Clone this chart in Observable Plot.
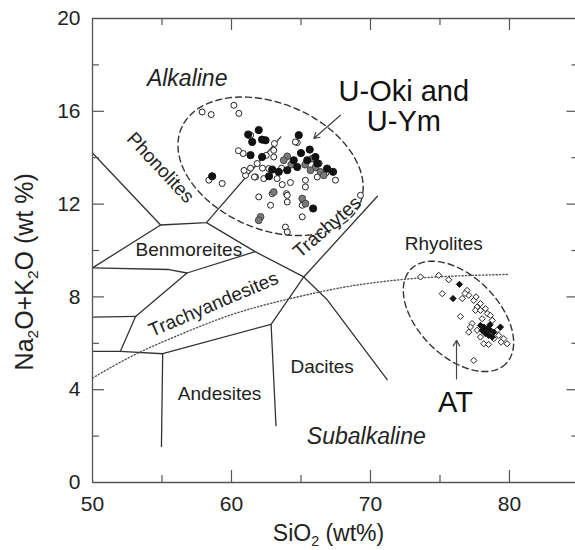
<!DOCTYPE html>
<html><head><meta charset="utf-8">
<script src="https://cdn.jsdelivr.net/npm/d3@7"></script>
<script src="https://cdn.jsdelivr.net/npm/@observablehq/plot@0.6"></script>
<style>html,body{margin:0;padding:0;background:#fff;overflow:hidden}</style>
</head><body><div id="chart"></div>
<script>
// ---------- DATA ----------
const xTickLabels = [50, 60, 70, 80];
const yTickLabels = [0, 4, 8, 12, 16, 20];
const xTickMajor = [60, 70, 80];
const xTickMinor = [55, 65, 75];
const yTickMajor = [4, 8, 12, 16];
const yTickMinor = [2, 6, 10, 14, 18];

// U-Oki / U-Ym tephra (circles)
const okiOpen = [[57.89,15.97],[58.54,15.86],[60.17,16.26],[60.53,15.91],[61.32,14.93],[63.09,14.61],[64.73,14.65],[60.84,14.18],[61.85,13.75],[63.04,14.03],[63.04,14.32],[58.37,13.03],[59.33,12.89],[61.96,12.31],[62.81,11.95],[63.96,12.45],[64.01,12.09],[63.88,11.01],[64.01,10.80],[64.60,14.68],[67.48,13.03],[65.32,13.03],[65.32,12.74],[65.09,11.45],[69.28,12.38],[61.73,13.17],[62.32,13.10],[63.28,13.10],[63.65,12.84],[64.24,12.93],[62.93,12.45],[64.01,12.38],[65.09,11.95],[61.37,13.55],[62.23,13.55],[61.01,13.24],[62.68,13.53],[61.65,13.17],[66.17,13.17],[61.37,14.97],[60.5,14.3],[62.5,14.1],[60.9,13.45],[63.6,13.55],[66.8,13.35]];
const okiGray = [[64.01,14.06],[63.76,13.89],[65.80,13.96],[66.04,13.58],[66.40,13.39],[66.64,13.24],[65.68,13.46],[65.09,12.24],[65.32,12.02],[62.09,11.45],[61.96,11.30],[63.04,12.52],[66.28,13.75],[65.3,13.7],[64.3,13.7]];
const okiBlack = [[61.96,15.19],[62.20,14.78],[61.49,14.68],[62.45,14.75],[61.37,14.11],[62.20,14.03],[64.84,14.97],[65.63,14.35],[64.48,13.89],[64.73,13.60],[64.01,13.46],[63.40,13.39],[62.93,13.49],[65.45,13.89],[66.04,14.03],[66.17,13.75],[66.88,13.53],[67.31,13.39],[58.61,13.20],[65.87,11.81],[62.7,13.2],[65.0,14.2],[61.2,15.0]];

// AT tephra (diamonds)
const atOpen = [[73.60,8.86],[74.91,8.93],[75.63,8.74],[75.16,8.14],[76.60,7.93],[76.47,7.16],[76.95,8.28],[77.07,8.07],[77.43,7.85],[77.67,7.56],[77.55,7.42],[77.91,7.42],[78.27,7.49],[78.40,7.28],[78.63,7.20],[78.76,6.99],[77.31,6.85],[77.07,6.48],[77.19,6.70],[77.67,6.56],[77.91,6.27],[78.15,5.98],[78.87,6.20],[79.23,6.34],[79.59,6.20],[79.83,5.98],[79.11,6.56],[77.43,5.26],[77.91,7.71],[78.03,7.06],[76.8,8.15],[77.6,8.0],[78.5,5.95],[79.4,6.05]];
const atBlack = [[76.40,8.54],[75.94,7.93],[78.15,6.70],[78.40,6.63],[78.63,6.56],[78.27,6.42],[78.51,6.34],[78.87,6.48],[79.35,6.70],[78.03,6.56],[78.76,6.27],[77.91,6.77],[78.6,6.8]];

// TAS field boundaries (SiO2, Na2O+K2O)
const fieldLines = [
  [[50,14.2],[54.9,11.1],[58.2,11.2],[63.55,14.9]],
  [[54.9,11.1],[50,9.25]],
  [[58.2,11.2],[61.7,9.95],[65.2,8.86],[66.85,7.9],[71.2,4.43]],
  [[50,9.25],[55.5,9.18],[56.8,9.03],[61.7,9.95]],
  [[56.8,9.03],[53.1,7.16],[52.0,5.65]],
  [[50,7.13],[53.1,7.16]],
  [[50,5.65],[52.0,5.65],[55.05,5.55],[62.85,6.82],[65.2,8.86],[70.5,12.34]],
  [[55.05,5.55],[54.96,1.55]],
  [[62.85,6.82],[63.2,2.45]]
];
// Alkaline / subalkaline divider (dotted)
const dividerX = [50,52,54,56,58,60,62,64,66,68,70,72,74,76,78,80];
const dividerY = [4.5,5.2,5.8,6.3,6.8,7.25,7.6,7.9,8.17,8.42,8.6,8.74,8.84,8.9,8.94,8.97];

// Field labels
const fieldText = ["Phonolites","Benmoreites","Trachyandesites","Trachytes","Andesites","Dacites","Rhyolites"];
const fieldX = [54.89, 56.93, 58.71, 66.88, 59.14, 66.52, 75.27];
const fieldY = [13.57, 10.01, 7.68, 11.01, 3.83, 4.97, 10.27];
const fieldRot = [47, 0, -23, -41, 0, 0, 0];
const seriesText = ["Alkaline", "Subalkaline"];
const seriesX = [56.81, 69.70];
const seriesY = [17.42, 1.98];
const groupText = ["U-Oki and", "U-Ym", "AT"];
const groupX = [72.40, 72.40, 76.12];
const groupY = [16.84, 15.54, 3.46];
// Arrows
const arrows = [
  {x1: 67.84, y1: 15.83, x2: 65.92, y2: 14.83},
  {x1: 76.19, y1: 4.47, x2: 76.19, y2: 6.13}
];
// Dashed group envelopes: centre (data), semi-axes (px), tilt (deg)
const envelopes = [
  {id: "oki", cx: 62.81, cy: 13.63, a: 97, b: 63, angle: 23},
  {id: "at", cx: 76.33, cy: 7.16, a: 67, b: 40, angle: 45}
];

// ---------- LAYOUT ----------
const W = 575, H = 550, ML = 92, MR = 0, MT = 18, MB = 68;
const xDomain = [50, 84.75], yDomain = [0, 20];
const kx = (W - ML - MR) / (xDomain[1] - xDomain[0]);
const ky = (H - MT - MB) / (yDomain[1] - yDomain[0]);
const FONT = "'Liberation Sans', Arial, Helvetica, sans-serif";
const INK = "#222";

const toPts = arr => arr.map(([x, y]) => ({x, y}));
const linesData = fieldLines.flatMap((l, i) => l.map(([x, y]) => ({x, y, id: i})));
const dividerData = dividerX.map((x, i) => ({x, y: dividerY[i]}));
function envelopePts(e) {
  const th = e.angle * Math.PI / 180, pts = [];
  for (let i = 0; i < 144; i++) {
    const t = i / 144 * 2 * Math.PI;
    const dx = e.a * Math.cos(t) * Math.cos(th) - e.b * Math.sin(t) * Math.sin(th);
    const dy = e.a * Math.cos(t) * Math.sin(th) + e.b * Math.sin(t) * Math.cos(th);
    pts.push({x: e.cx + dx / kx, y: e.cy - dy / ky, id: e.id});
  }
  return pts;
}
const envData = envelopes.flatMap(envelopePts);
const idx = a => a.map((_, i) => i);

const majorLen = 12, minorLen = 7;
const xTicks = [...xTickMajor.map(v => ({v, l: majorLen})), ...xTickMinor.map(v => ({v, l: minorLen}))];
const yTicks = [...yTickMajor.map(v => ({v, l: majorLen})), ...yTickMinor.map(v => ({v, l: minorLen}))];
const frameStroke = "#555";

const chart = Plot.plot({
  width: W, height: H,
  marginLeft: ML, marginRight: MR, marginTop: MT, marginBottom: MB,
  x: {domain: xDomain},
  y: {domain: yDomain},
  style: {fontFamily: FONT, background: "white", color: INK},
  marks: [
    // field boundaries
    Plot.line(linesData, {x: "x", y: "y", z: "id", stroke: "#333", strokeWidth: 1.3}),
    Plot.line(dividerData, {x: "x", y: "y", stroke: "#555", strokeWidth: 1.4, strokeDasharray: "1.2,2.2", curve: "basis"}),
    Plot.line(envData, {x: "x", y: "y", z: "id", curve: "linear-closed", stroke: "#333", strokeWidth: 1.4, strokeDasharray: "6,4"}),
    Plot.arrow(arrows, {x1: "x1", y1: "y1", x2: "x2", y2: "y2", stroke: "#444", strokeWidth: 1.2, headLength: 8}),
    // points
    Plot.dot(toPts(okiOpen), {x: "x", y: "y", r: 3, fill: "white", stroke: "#222", strokeWidth: 1}),
    Plot.dot(toPts(okiGray), {x: "x", y: "y", r: 3.4, fill: "#7a7a7a", stroke: "#444", strokeWidth: 1}),
    Plot.dot(toPts(okiBlack), {x: "x", y: "y", r: 3.6, fill: "#111", stroke: "#111", strokeWidth: 1}),
    Plot.dot(toPts(atOpen), {x: "x", y: "y", r: 2.8, symbol: "diamond2", fill: "white", stroke: "#222", strokeWidth: 1}),
    Plot.dot(toPts(atBlack), {x: "x", y: "y", r: 2.8, symbol: "diamond2", fill: "#111", stroke: "#111", strokeWidth: 1}),
    // labels
    Plot.text(idx(fieldText), {x: i => fieldX[i], y: i => fieldY[i], text: i => fieldText[i], rotate: i => fieldRot[i], fontSize: 19, fill: INK}),
    Plot.text(idx(seriesText), {x: i => seriesX[i], y: i => seriesY[i], text: i => seriesText[i], fontSize: 23, fontStyle: "italic", fill: INK}),
    Plot.text(idx(groupText), {x: i => groupX[i], y: i => groupY[i], text: i => groupText[i], fontSize: 29, fill: "#111"}),
    // frame (left, bottom, top)
    Plot.ruleX([50], {x: d => d, y1: 0, y2: 20, stroke: frameStroke, strokeWidth: 1.3}),
    Plot.ruleY([0, 20], {y: d => d, x1: 50, x2: 85, stroke: frameStroke, strokeWidth: 1.3}),
    // inward ticks
    Plot.ruleX(xTicks, {x: "v", y1: 0, y2: d => d.l / ky, stroke: frameStroke, strokeWidth: 1.2}),
    Plot.ruleX(xTicks, {x: "v", y1: d => 20 - d.l / ky, y2: 20, stroke: frameStroke, strokeWidth: 1.2}),
    Plot.ruleY(yTicks, {y: "v", x1: 50, x2: d => 50 + d.l / kx, stroke: frameStroke, strokeWidth: 1.2}),
    Plot.ruleY(yTicks, {y: "v", x1: d => 85 - d.l / kx, x2: 85, stroke: frameStroke, strokeWidth: 1.2}),
    // axes labels
    Plot.axisX({ticks: xTickLabels, tickSize: 0, tickPadding: 14, fontSize: 21, label: null, fill: INK}),
    Plot.axisY({ticks: yTickLabels, tickSize: 0, tickPadding: 12, fontSize: 21, label: null, fill: INK}),
    Plot.text(["SiO2 (wt%)"], {x: 66.98, y: 0, text: d => d, dy: 51, fontSize: 23, fill: INK}),
    Plot.text(["Na2O+K2O (wt %)"], {x: 50, y: 9.08, text: d => d, dx: -68, rotate: -90, fontSize: 25, fill: INK})
  ]
});
document.getElementById("chart").appendChild(chart);

// chemical subscripts as tspans
d3.select(chart).selectAll("text").each(function() {
  const t = this.textContent;
  if (t !== "SiO2 (wt%)" && t !== "Na2O+K2O (wt %)") return;
  const fs = parseFloat(getComputedStyle(this).fontSize) || 24;
  const sel = d3.select(this);
  sel.text(null);
  const parts = t.split(/(2)/);
  let shifted = false;
  parts.forEach(p => {
    if (p === "") return;
    const ts = sel.append("tspan").text(p);
    if (p === "2") {
      ts.attr("font-size", fs * 0.62).attr("dy", fs * 0.22);
      shifted = true;
    } else if (shifted) {
      ts.attr("dy", -fs * 0.22);
      shifted = false;
    }
  });
});
</script></body></html>
